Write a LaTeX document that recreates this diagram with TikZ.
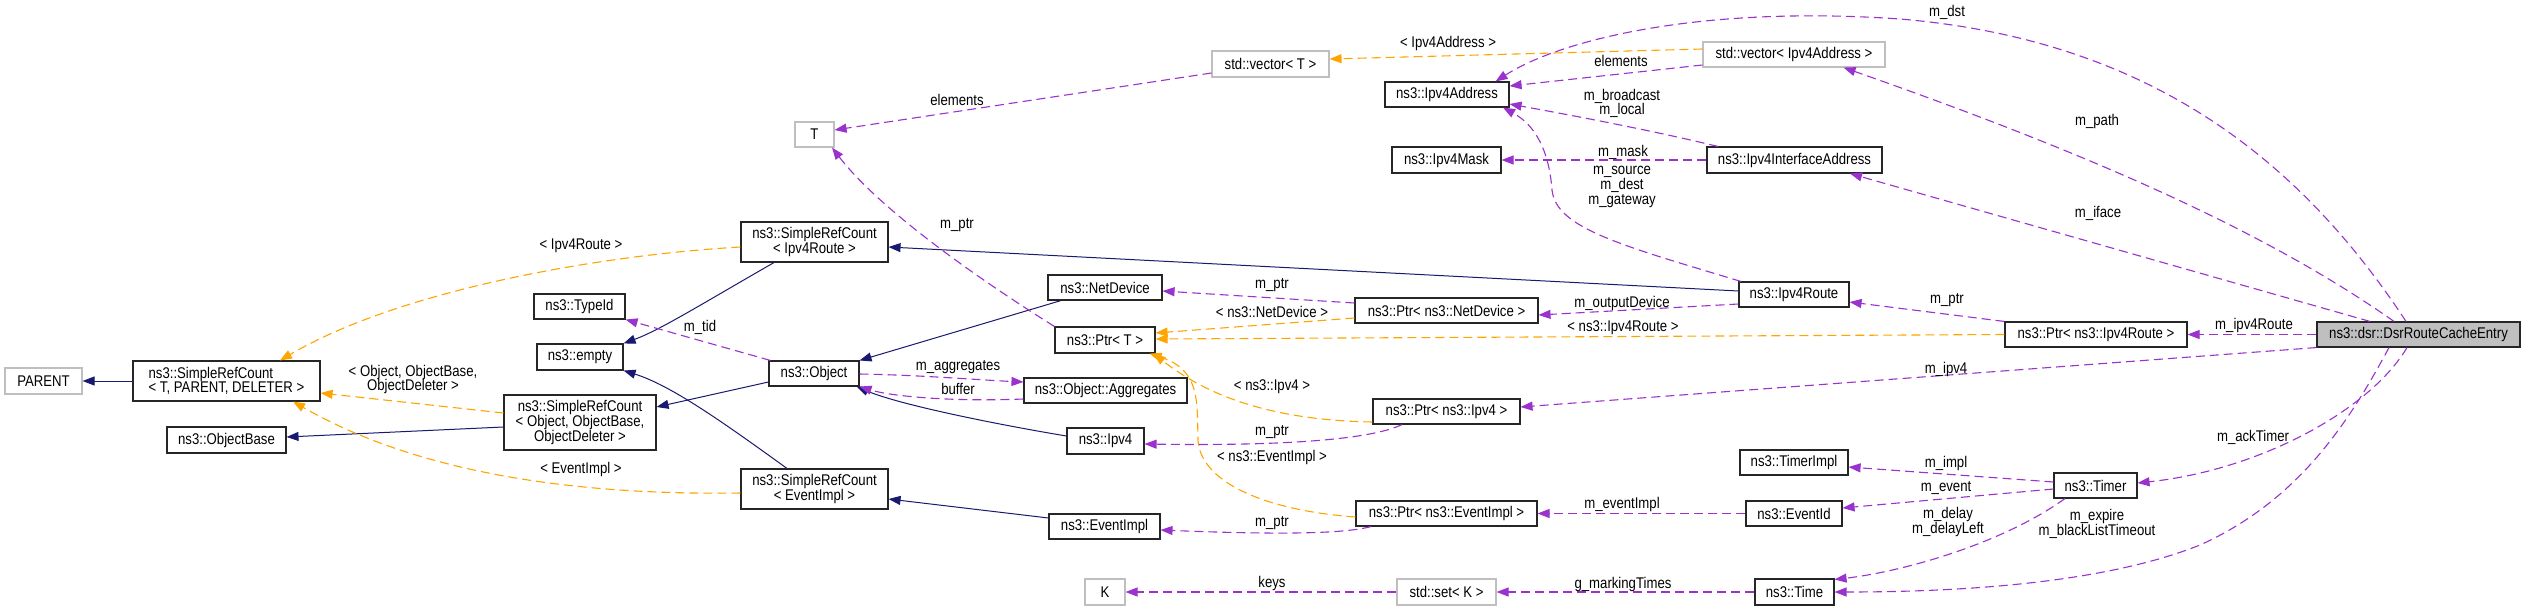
\documentclass[tikz,border=0pt]{standalone}
\usepackage{fontspec}
\setmainfont{Liberation Sans}[FakeStretch=0.85]
\usetikzlibrary{arrows.meta,calc}
\definecolor{navyc}{HTML}{191970}
\definecolor{purc}{HTML}{9A32CD}
\definecolor{orc}{HTML}{FFA500}
\definecolor{grc}{HTML}{BFBFBF}
\newcommand\dxfont{\fontsize{15.5}{14.7}\selectfont}
\begin{document}
\begin{tikzpicture}[x=1pt,y=-1pt,
  sz/.style 2 args={minimum width=#1pt,minimum height=#2pt},
  cls/.style={draw=black!85,line width=1.1pt,rectangle,inner sep=0pt,align=center,font=\dxfont,fill=white},
  ext/.style={cls,draw=grc},
  main/.style={cls,fill=grc},
  lbl/.style={inner sep=0pt,align=center,font=\dxfont},
  tip/.style={-{Triangle[length=12pt,width=9pt]}},
  inh/.style={draw=navyc,line width=1pt,tip},
  use/.style={draw=purc,line width=1.1pt,dash pattern=on 9pt off 5pt,tip},
  tmpl/.style={draw=orc,line width=1.1pt,dash pattern=on 9pt off 5pt,tip}]
\useasboundingbox[fill=white] (0,0) rectangle (2525,611);

% ---------- nodes ----------
\node[ext,sz={77}{26}] (parent) at (43.5,381) {PARENT};
\node[cls,sz={187}{40},align=left] (srcTPD) at (226.5,381) {ns3::SimpleRefCount\\< T, PARENT, DELETER >};
\node[cls,sz={119}{26}] (objbase) at (226.5,440) {ns3::ObjectBase};
\node[cls,sz={147}{40}] (srcRoute) at (814.5,242) {ns3::SimpleRefCount\\< Ipv4Route >};
\node[cls,sz={91}{25}] (typeid) at (579.5,306.5) {ns3::TypeId};
\node[cls,sz={86}{26}] (empty) at (580,357) {ns3::empty};
\node[cls,sz={152}{55}] (srcObj) at (580,422.5) {ns3::SimpleRefCount\\< Object, ObjectBase,\\ObjectDeleter >};
\node[cls,sz={90}{25}] (object) at (814,373.5) {ns3::Object};
\node[cls,sz={147}{40}] (srcEvent) at (814.5,489) {ns3::SimpleRefCount\\< EventImpl >};
\node[ext,sz={39}{25}] (T) at (814.5,134.5) {T};
\node[ext,sz={117}{26}] (vecT) at (1270.5,64) {std::vector< T >};
\node[cls,sz={114}{25}] (netdev) at (1105,287.5) {ns3::NetDevice};
\node[cls,sz={100}{26}] (ptrT) at (1105,340) {ns3::Ptr< T >};
\node[cls,sz={163}{25}] (aggr) at (1105.5,390.5) {ns3::Object::Aggregates};
\node[cls,sz={77}{26}] (ipv4) at (1105.5,441) {ns3::Ipv4};
\node[cls,sz={111}{25}] (eventimpl) at (1104.5,526.5) {ns3::EventImpl};
\node[ext,sz={40}{26}] (K) at (1105,592) {K};
\node[cls,sz={124}{25}] (ipv4addr) at (1447,94.5) {ns3::Ipv4Address};
\node[cls,sz={109}{26}] (ipv4mask) at (1446.5,160) {ns3::Ipv4Mask};
\node[cls,sz={183}{25}] (ptrNet) at (1446.5,310.5) {ns3::Ptr< ns3::NetDevice >};
\node[cls,sz={147}{25}] (ptrIpv4) at (1446.5,411.5) {ns3::Ptr< ns3::Ipv4 >};
\node[cls,sz={181}{25}] (ptrEvent) at (1446.5,513.5) {ns3::Ptr< ns3::EventImpl >};
\node[ext,sz={99}{26}] (setK) at (1446.5,592) {std::set< K >};
\node[ext,sz={182}{25}] (vecAddr) at (1794,54.5) {std::vector< Ipv4Address >};
\node[cls,sz={175}{26}] (ifaddr) at (1794.5,160) {ns3::Ipv4InterfaceAddress};
\node[cls,sz={110}{25}] (ipv4route) at (1794,294.5) {ns3::Ipv4Route};
\node[cls,sz={108}{25}] (timerimpl) at (1794,462.5) {ns3::TimerImpl};
\node[cls,sz={96}{25}] (eventid) at (1794,513.5) {ns3::EventId};
\node[cls,sz={79}{26}] (time) at (1794.5,592) {ns3::Time};
\node[cls,sz={182}{25}] (ptrRoute) at (2096,334.5) {ns3::Ptr< ns3::Ipv4Route >};
\node[cls,sz={83}{25}] (timer) at (2095.5,485.5) {ns3::Timer};
\node[main,sz={203}{25}] (dsr) at (2418.5,334.5) {ns3::dsr::DsrRouteCacheEntry};

% ---------- inheritance ----------
\draw[inh] (srcTPD.west) -- (parent.east);
\draw[inh] ($(srcObj.west)+(0,4.5)$) -- ($(objbase.east)+(0,-3)$);
\draw[inh] ($(srcRoute.south)+(-40.5,0)$) .. controls (700,305) and (660,330) .. (empty.north east);
\draw[inh] ($(srcEvent.north)+(-27.5,0)$) .. controls (720,420) and (670,385) .. (empty.south east);
\draw[inh] ($(object.west)+(0,8.5)$) -- ($(srcObj.east)+(0,-15.5)$);
\draw[inh] ($(netdev.south)+(-44,0)$) -- (object.north east);
\draw[inh] ($(ipv4.west)+(0,-5)$) .. controls (1000,425) and (900,405) .. ($(object.south east)+(-3,0)$);
\draw[inh] ($(ipv4route.west)+(0,-3.5)$) -- ($(srcRoute.east)+(0,5)$);
\draw[inh] ($(eventimpl.west)+(0,-8.5)$) -- ($(srcEvent.east)+(0,10)$);

% ---------- template instances ----------
\draw[tmpl] ($(srcObj.west)+(0,-9.5)$) -- ($(srcTPD.east)+(0,12)$);
\node[lbl] (l1) at (413,379.5) {< Object, ObjectBase,\\ObjectDeleter >};
\draw[tmpl] ($(srcRoute.west)+(0,5)$) .. controls (600,255) and (400,290) .. ($(srcTPD.north)+(53.5,0)$);
\node[lbl] (l2) at (581,246) {< Ipv4Route >};
\draw[tmpl] ($(srcEvent.west)+(0,4)$) .. controls (600,495) and (430,480) .. ($(srcTPD.south)+(66.5,0)$);
\node[lbl] (l3) at (581,469) {< EventImpl >};
\draw[tmpl] ($(vecAddr.west)+(0,-5.5)$) -- ($(vecT.east)+(0,-5)$);
\node[lbl] (l4) at (1448,43) {< Ipv4Address >};
\draw[tmpl] (ptrRoute.west) -- ($(ptrT.east)+(0,-1)$);
\node[lbl] (l5) at (1623,328) {< ns3::Ipv4Route >};
\draw[tmpl] ($(ptrNet.west)+(0,7.5)$) -- ($(ptrT.east)+(0,-7)$);
\node[lbl] (l6) at (1272,312) {< ns3::NetDevice >};
\draw[tmpl] ($(ptrIpv4.west)+(0,10.5)$) .. controls (1260,420) and (1200,390) .. ($(ptrT.south east)+(-2,0)$);
\node[lbl] (l7) at (1272,387) {< ns3::Ipv4 >};
\draw[tmpl] ($(ptrEvent.west)+(0,3.5)$) .. controls (1260,510) and (1200,480) .. (1198,440) .. controls (1197,400) and (1200,370) .. ($(ptrT.south east)+(-6,0)$);
\node[lbl] (l8) at (1272,457) {< ns3::EventImpl >};

% ---------- usage ----------
\draw[use] ($(vecT.west)+(0,9)$) -- ($(T.east)+(0,-4.5)$);
\node[lbl] (l9) at (957,100) {elements};
\draw[use] ($(vecAddr.west)+(0,10.5)$) -- ($(ipv4addr.east)+(0,-8.5)$);
\node[lbl] (l10) at (1621,61) {elements};
\draw[use] ($(ifaddr.north)+(-76.5,0)$) .. controls (1650,130) and (1570,115) .. ($(ipv4addr.east)+(0,9.5)$);
\node[lbl] (l11) at (1622,103.5) {m\_broadcast\\m\_local};
\draw[use] (ifaddr.west) -- (ipv4mask.east);
\node[lbl] (l12) at (1623,152) {m\_mask};
\draw[use] ($(ipv4route.north)+(-53,0)$) .. controls (1620,245) and (1556,228) .. (1552,190) .. controls (1549,150) and (1535,125) .. ($(ipv4addr.south)+(56,0)$);
\node[lbl] (l13) at (1622,187) {m\_source\\m\_dest\\m\_gateway};
\draw[use] ($(dsr.north)+(-12.5,0)$) .. controls (2300,160) and (2150,40) .. (1900,19) .. controls (1700,5) and (1560,40) .. ($(ipv4addr.north east)+(-14,0)$);
\node[lbl] (l14) at (1947,12) {m\_dst};
\draw[use] ($(dsr.north)+(-24.5,0)$) .. controls (2250,220) and (2050,140) .. ($(vecAddr.south east)+(-42,0)$);
\node[lbl] (l15) at (2097,121) {m\_path};
\draw[use] ($(dsr.north)+(-48.5,0)$) -- ($(ifaddr.south)+(55.5,0)$);
\node[lbl] (l16) at (2098,213) {m\_iface};
\draw[use] (dsr.west) -- (ptrRoute.east);
\node[lbl] (l17) at (2254,325) {m\_ipv4Route};
\draw[use] (ptrRoute.north west) -- ($(ipv4route.east)+(0,7.5)$);
\node[lbl] (l18) at (1947,300) {m\_ptr};
\draw[use] ($(ipv4route.west)+(0,9.5)$) -- ($(ptrNet.east)+(0,4.5)$);
\node[lbl] (l19) at (1622,303) {m\_outputDevice};
\draw[use] ($(ptrNet.west)+(0,-7.5)$) -- ($(netdev.east)+(0,3.5)$);
\node[lbl] (l20) at (1272,285) {m\_ptr};
\draw[use] (ptrT.north west) .. controls (980,280) and (880,210) .. ($(T.south)+(17.5,0)$);
\node[lbl] (l21) at (957,225) {m\_ptr};
\draw[use] ($(ptrIpv4.south)+(-44.5,0)$) .. controls (1370,440) and (1280,446) .. ($(ipv4.east)+(0,3)$);
\node[lbl] (l22) at (1272,432) {m\_ptr};
\draw[use] ($(ptrEvent.south)+(-75.5,0)$) .. controls (1340,535) and (1260,534) .. ($(eventimpl.east)+(0,3.5)$);
\node[lbl] (l23) at (1272,523) {m\_ptr};
\draw[use] (dsr.south west) -- ($(ptrIpv4.east)+(0,-4.5)$);
\node[lbl] (l24) at (1946,369) {m\_ipv4};
\draw[use] ($(object.north west)+(2,0)$) -- (typeid.south east);
\node[lbl] (l25) at (700,327) {m\_tid};
\draw[use] ($(object.east)+(0,0.5)$) .. controls (920,375) and (980,380) .. ($(aggr.west)+(0,-8.5)$);
\node[lbl] (l26) at (958,367) {m\_aggregates};
\draw[use] ($(aggr.west)+(0,8.5)$) .. controls (950,402) and (890,396) .. (object.south east);
\node[lbl] (l27) at (958,389) {buffer};
\draw[use] ($(timer.west)+(0,-3.5)$) -- ($(timerimpl.east)+(0,4.5)$);
\node[lbl] (l28) at (1946,463) {m\_impl};
\draw[use] ($(timer.west)+(0,3.5)$) -- ($(eventid.east)+(0,-5.5)$);
\node[lbl] (l29) at (1946,488) {m\_event};
\draw[use] (eventid.west) -- (ptrEvent.east);
\node[lbl] (l30) at (1622,504) {m\_eventImpl};
\draw[use] ($(timer.south)+(-30.5,0)$) .. controls (2000,545) and (1900,572) .. ($(time.north east)+(0,1)$);
\node[lbl] (l31) at (1948,522) {m\_delay\\m\_delayLeft};
\draw[use] ($(dsr.south)+(-11.5,0)$) .. controls (2370,410) and (2260,470) .. ($(timer.east)+(0,-2.5)$);
\node[lbl] (l32) at (2253,437) {m\_ackTimer};
\draw[use] ($(dsr.south)+(-29.5,0)$) .. controls (2350,420) and (2300,500) .. (2200,545) .. controls (2100,585) and (1950,592) .. (time.east);
\node[lbl] (l33) at (2097,524) {m\_expire\\m\_blackListTimeout};
\draw[use] (time.west) -- (setK.east);
\node[lbl] (l34) at (1623,584) {g\_markingTimes};
\draw[use] (setK.west) -- (K.east);
\node[lbl] (l35) at (1272,583) {keys};
\end{tikzpicture}
\end{document}
